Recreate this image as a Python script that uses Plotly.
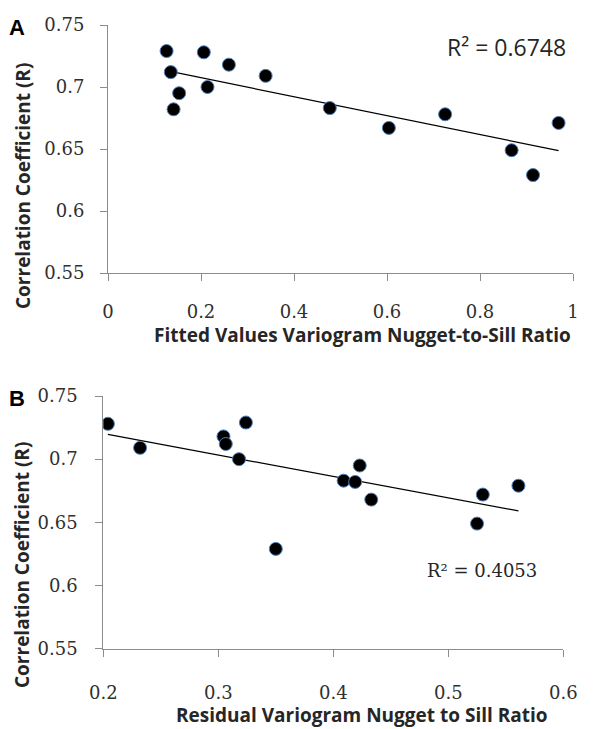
import numpy as np
import plotly.graph_objects as go

# Panel A data: fitted values variogram nugget-to-sill ratio vs correlation coefficient
a_x = [0.126, 0.206, 0.135, 0.260, 0.339, 0.214, 0.153, 0.141, 0.477, 0.604, 0.725, 0.868, 0.914, 0.969]
a_y = [0.729, 0.728, 0.712, 0.718, 0.709, 0.700, 0.695, 0.682, 0.683, 0.667, 0.678, 0.649, 0.629, 0.671]
a_r2 = "R² = 0.6748"

# Panel B data: residual variogram nugget to sill ratio vs correlation coefficient
b_x = [0.204, 0.232, 0.3045, 0.3065, 0.324, 0.318, 0.350, 0.423, 0.409, 0.419, 0.433, 0.530, 0.525, 0.561]
b_y = [0.728, 0.709, 0.718, 0.712, 0.729, 0.700, 0.629, 0.695, 0.683, 0.682, 0.668, 0.672, 0.649, 0.679]
b_r2 = "R² = 0.4053"

a_xticks = [0, 0.2, 0.4, 0.6, 0.8, 1]
b_xticks = [0.2, 0.3, 0.4, 0.5, 0.6]
y_ticks = [0.55, 0.6, 0.65, 0.7, 0.75]
y_ticktext = ["0.55", "0.6", "0.65", "0.7", "0.75"]

# page body has an 8px margin; size the figure to the visible area
OFF = 8
W, H = 596 - OFF, 729 - OFF
def px(x): return (x - OFF) / W
def py(y): return 1 - (y - OFF) / H

fig = go.Figure()

marker = dict(size=13, color="black", line=dict(color="#4F81BD", width=1))

def trend(xs, ys):
    m, c = np.polyfit(xs, ys, 1)
    x0, x1 = min(xs), max(xs)
    return [x0, x1], [m * x0 + c, m * x1 + c]

tx, ty = trend(a_x, a_y)
fig.add_trace(go.Scatter(x=tx, y=ty, mode="lines", line=dict(color="black", width=1.2),
                         xaxis="x", yaxis="y", showlegend=False, hoverinfo="skip"))
fig.add_trace(go.Scatter(x=a_x, y=a_y, mode="markers", marker=marker, xaxis="x", yaxis="y", showlegend=False))

tx, ty = trend(b_x, b_y)
fig.add_trace(go.Scatter(x=tx, y=ty, mode="lines", line=dict(color="black", width=1.2),
                         xaxis="x2", yaxis="y2", showlegend=False, hoverinfo="skip"))
fig.add_trace(go.Scatter(x=b_x, y=b_y, mode="markers", marker=marker, xaxis="x2", yaxis="y2", showlegend=False))

tickfont = dict(family="DejaVu Serif", size=18, color="#303030")
axcommon = dict(showline=True, linecolor="#8c8c8c", linewidth=1, ticks="outside",
                tickcolor="#8c8c8c", ticklen=7, showgrid=False, zeroline=False,
                tickfont=tickfont, fixedrange=True, automargin=False)

fig.update_layout(
    width=W, height=H, margin=dict(l=0, r=0, t=0, b=0),
    paper_bgcolor="white", plot_bgcolor="white",
    xaxis=dict(domain=[px(108), px(573)], anchor="y", range=[0, 1], tickvals=a_xticks,
               ticktext=["0", "0.2", "0.4", "0.6", "0.8", "1"], ticklabelstandoff=15, **axcommon),
    yaxis=dict(domain=[py(273), py(25)], anchor="x", range=[0.55, 0.75], tickvals=y_ticks,
               ticktext=y_ticktext, ticklabelstandoff=12, **axcommon),
    xaxis2=dict(domain=[px(103.3), px(563.3)], anchor="y2", range=[0.2, 0.6], tickvals=b_xticks,
                ticktext=["0.2", "0.3", "0.4", "0.5", "0.6"], ticklabelstandoff=21, **axcommon),
    yaxis2=dict(domain=[py(648.7), py(396)], anchor="x2", range=[0.55, 0.75], tickvals=y_ticks,
                ticktext=y_ticktext, ticklabelstandoff=14, **axcommon),
)

titlefont = dict(family="Open Sans", size=19, color="#262626", weight="bold")
ann = [
    dict(text="A", x=px(17), y=py(28), font=dict(family="Liberation Sans", size=22, color="black", weight="bold")),
    dict(text="B", x=px(17), y=py(398), font=dict(family="Liberation Sans", size=22, color="black", weight="bold")),
    dict(text="Fitted Values Variogram Nugget-to-Sill Ratio", x=px(362), y=py(335), font=titlefont),
    dict(text="Correlation Coefficient (R)", x=px(23), y=py(186), textangle=-90, font=titlefont),
    dict(text="Residual Variogram Nugget to Sill Ratio", x=px(362), y=py(715), font=titlefont),
    dict(text="Correlation Coefficient (R)", x=px(22), y=py(565), textangle=-90, font=titlefont),
    dict(text=a_r2, x=px(506), y=py(47), font=dict(family="Open Sans", size=23, color="#262626")),
    dict(text=b_r2, x=px(482), y=py(570), font=dict(family="DejaVu Serif", size=18, color="#262626")),
]
for a in ann:
    a.update(xref="paper", yref="paper", showarrow=False, xanchor="center", yanchor="middle")
fig.update_layout(annotations=ann)

fig.write_html("out.html")
